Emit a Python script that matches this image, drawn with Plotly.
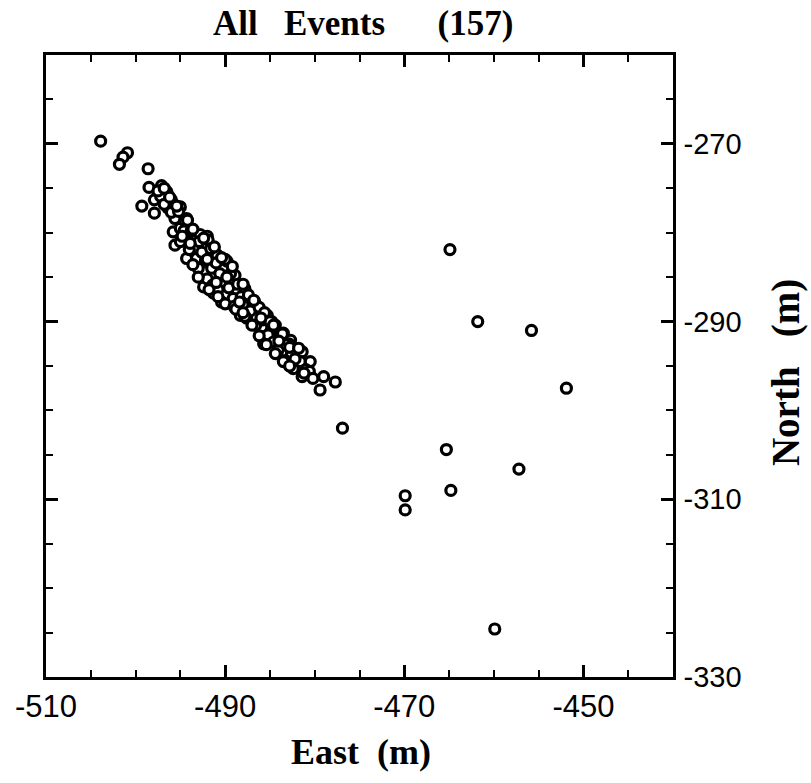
import plotly.graph_objects as go

# Event locations (East, North) in metres
east_isolated = [-503.9, -500.9, -501.4, -501.8, -498.6, -499.3,
                 -476.9, -469.9, -469.9, -464.9, -465.3, -464.8, -461.8,
                 -459.9, -457.2, -455.8, -451.9]
north_isolated = [-269.7, -271.0, -271.5, -272.3, -272.8, -277.0,
                  -302.0, -309.6, -311.2, -281.9, -304.4, -309.0, -290.0,
                  -324.6, -306.6, -291.0, -297.5]

east_cluster = [
    -498.5, -497.1, -496.5, -497.9, -497.9, -497.2, -496.0, -496.4, -495.0, -495.6,
    -494.3, -495.8, -495.0, -493.2, -492.0, -495.6, -493.5, -494.3, -492.2, -494.5,
    -492.8, -491.9, -494.3, -493.2, -490.9, -489.8, -492.2, -491.3, -488.9, -492.4,
    -490.2, -487.8, -491.3, -489.1, -486.7, -490.4, -488.0, -485.3, -486.8, -488.3,
    -484.4, -486.1, -483.5, -485.3, -482.7, -485.7, -493.0, -491.5, -487.6, -484.8,
    -485.0, -484.2, -482.6, -481.4, -483.3, -483.5, -481.6, -480.5, -481.4, -479.0,
    -477.7, -479.4, -482.4, -485.9, -485.2, -482.9,
    -497.5, -496.8, -496.0, -495.2, -494.6, -495.0, -494.0, -493.8, -492.9, -493.6,
    -492.6, -491.6, -491.0, -492.0, -490.6, -490.0, -491.4, -489.6, -490.8, -489.4,
    -488.6, -490.0, -489.0, -488.2, -488.8, -487.4, -487.2, -486.6, -487.8, -486.2,
    -485.8, -485.0, -484.6, -485.4, -483.8, -484.0, -483.2, -482.8, -482.2, -481.8,
    -481.0, -480.6, -480.2, -482.8, -496.2, -495.4, -494.2, -493.6, -492.4, -491.2,
    -492.0, -490.4, -489.2, -488.0, -486.8, -485.6, -484.6, -483.6, -493.0, -491.8,
    -490.8, -488.0, -487.0, -486.2, -484.4,
    -494.8, -493.9, -491.0, -489.8, -488.4, -486.0, -484.0, -481.2, -496.8]
north_cluster = [
    -274.9, -274.7, -275.4, -276.3, -277.8, -275.9, -276.3, -277.2, -277.1, -278.4,
    -278.4, -279.9, -279.5, -280.3, -280.4, -281.4, -281.7, -281.0, -281.7, -278.7,
    -280.2, -280.8, -282.9, -282.9, -282.5, -283.2, -283.2, -284.8, -284.8, -286.1,
    -285.7, -286.3, -286.8, -287.4, -287.8, -287.8, -288.1, -289.3, -289.5, -289.3,
    -290.4, -290.4, -291.3, -291.3, -292.1, -292.5, -284.0, -284.0, -289.6, -290.0,
    -291.3, -293.6, -293.6, -293.4, -294.4, -294.5, -294.5, -294.5, -296.2, -296.2,
    -296.8, -297.7, -295.3, -290.6, -291.5, -292.5,
    -275.3, -276.8, -277.7, -277.6, -279.8, -281.0, -281.9, -279.8, -281.0, -283.6,
    -282.2, -281.8, -283.4, -285.2, -284.6, -283.0, -285.9, -286.2, -286.4, -284.6,
    -285.8, -288.0, -288.3, -287.2, -288.6, -287.0, -288.8, -290.4, -289.4, -288.4,
    -289.8, -290.0, -292.3, -292.6, -291.6, -293.0, -292.6, -292.9, -294.2, -293.0,
    -295.4, -295.6, -296.4, -295.0, -276.0, -277.0, -278.6, -279.6, -280.6, -281.6,
    -283.0, -282.8, -283.8, -285.8, -287.6, -289.0, -290.4, -291.4, -285.0, -286.4,
    -287.2, -289.0, -290.4, -291.6, -293.6,
    -280.4, -281.2, -285.6, -285.0, -287.8, -289.6, -292.2, -295.8, -275.0]

east_m = east_cluster + east_isolated
north_m = north_cluster + north_isolated

NB = "\u00a0"
title_text = "All" + NB * 3 + "Events" + NB * 6 + "(157)"
x_title = "East" + NB * 2 + "(m)"
y_title = "North" + NB * 3 + "(m)"
x_range = [-510, -440]
y_range = [-330, -260]
x_tick_vals = [-510, -490, -470, -450]
x_tick_text = ["-510", "-490", "-470", "-450"]
y_tick_vals = [-330, -310, -290, -270]
y_tick_text = ["-330", "-310", "-290", "-270"]

fig = go.Figure(go.Scatter(
    x=east_m, y=north_m, mode="markers",
    marker=dict(symbol="circle", size=10, color="white",
                line=dict(color="black", width=3.2)),
    hoverinfo="x+y"))

axis_common = dict(
    ticks="inside", ticklen=12, tickwidth=2.5, tickcolor="black",
    minor=dict(dtick=5, ticks="inside", ticklen=7, tickwidth=2, tickcolor="black", showgrid=False),
    showline=True, linewidth=2.5, linecolor="black", mirror="allticks",
    showgrid=False, zeroline=False, tickmode="array",
)

fig.update_layout(
    width=811, height=783,
    margin=dict(l=46, r=138, t=55, b=106),
    plot_bgcolor="white", paper_bgcolor="white",
    showlegend=False,
    xaxis=dict(range=x_range, tickvals=x_tick_vals, ticktext=x_tick_text, **axis_common,
               tickfont=dict(family="Liberation Sans", size=31, color="black"),
               ticklabelstandoff=0),
    yaxis=dict(range=y_range, tickvals=y_tick_vals, ticktext=y_tick_text, side="right",
               **axis_common,
               tickfont=dict(family="Liberation Sans", size=29, color="black"),
               ticklabelstandoff=2),
    annotations=[
        dict(text="<b>" + title_text + "</b>", xref="paper", yref="paper",
             x=0.505, y=1.05, xanchor="center", yanchor="middle", showarrow=False,
             font=dict(family="Liberation Serif", size=35, color="black")),
        dict(text="<b>" + x_title + "</b>", xref="paper", yref="paper",
             x=0.503, y=-0.1206, xanchor="center", yanchor="middle", showarrow=False,
             font=dict(family="Liberation Serif", size=36, color="black")),
        dict(text="<b>" + y_title + "</b>", xref="paper", yref="paper",
             x=1.18, y=0.49, xanchor="center", yanchor="middle", showarrow=False,
             textangle=-90,
             font=dict(family="Liberation Serif", size=39, color="black")),
    ],
)

fig.write_html("out.html", config={"displayModeBar": False},
               post_script="document.body.style.margin='0';")
